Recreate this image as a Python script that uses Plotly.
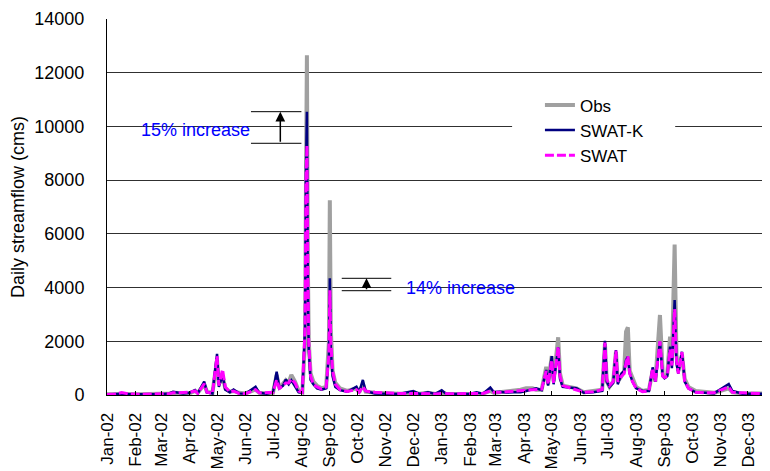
import plotly.graph_objects as go

# ---------------- data ----------------
dates = [
    "2002-01-01", "2002-01-10", "2002-01-17", "2002-01-25", "2002-02-05", "2002-02-18",
    "2002-03-01", "2002-03-10", "2002-03-14", "2002-03-25", "2002-04-01", "2002-04-07",
    "2002-04-10", "2002-04-17", "2002-04-20", "2002-04-26", "2002-05-01", "2002-05-03",
    "2002-05-07", "2002-05-10", "2002-05-15", "2002-05-19", "2002-05-25", "2002-06-01",
    "2002-06-12", "2002-06-16", "2002-06-24", "2002-07-01", "2002-07-05", "2002-07-08",
    "2002-07-12", "2002-07-15", "2002-07-18", "2002-07-21", "2002-07-25", "2002-07-29",
    "2002-08-02", "2002-08-05", "2002-08-06", "2002-08-07", "2002-08-08", "2002-08-09",
    "2002-08-11", "2002-08-14", "2002-08-18", "2002-08-23", "2002-08-28", "2002-08-31",
    "2002-09-01", "2002-09-02", "2002-09-04", "2002-09-07", "2002-09-12", "2002-09-20",
    "2002-09-30", "2002-10-03", "2002-10-07", "2002-10-10", "2002-10-20", "2002-11-01",
    "2002-11-15", "2002-12-01", "2002-12-08", "2002-12-17", "2002-12-25", "2003-01-01",
    "2003-01-06", "2003-01-20", "2003-02-01", "2003-02-08", "2003-02-15", "2003-02-23",
    "2003-02-27", "2003-03-05", "2003-03-12", "2003-03-20", "2003-03-28", "2003-04-03",
    "2003-04-10", "2003-04-14", "2003-04-20", "2003-04-25", "2003-04-27", "2003-05-01",
    "2003-05-03", "2003-05-08", "2003-05-10", "2003-05-13", "2003-05-28", "2003-06-05",
    "2003-06-15", "2003-06-25", "2003-06-28", "2003-06-30", "2003-07-03", "2003-07-07",
    "2003-07-10", "2003-07-12", "2003-07-16", "2003-07-19", "2003-07-21", "2003-07-23",
    "2003-07-25", "2003-07-28", "2003-08-01", "2003-08-08", "2003-08-15", "2003-08-19",
    "2003-08-22", "2003-08-27", "2003-08-30", "2003-09-01", "2003-09-04", "2003-09-07",
    "2003-09-09", "2003-09-12", "2003-09-14", "2003-09-16", "2003-09-20", "2003-09-23",
    "2003-09-27", "2003-10-05", "2003-10-15", "2003-10-25", "2003-11-10", "2003-11-14",
    "2003-11-25", "2003-12-05", "2003-12-15", "2003-12-25",
]

obs = [
    30, 40, 60, 40, 30, 30,
    30, 60, 80, 60, 60, 150,
    80, 400, 120, 80, 1300, 400,
    700, 250, 120, 150, 80, 60,
    200, 80, 60, 80, 750, 250,
    400, 550, 450, 750, 500, 150,
    100, 2000, 8000, 12650, 5000, 2000,
    800, 500, 350, 250, 300, 2000,
    7250, 2500, 900, 450, 250, 150,
    250, 100, 400, 120, 80, 60,
    50, 60, 50, 80, 40, 80,
    40, 40, 50, 60, 50, 150,
    80, 100, 120, 150, 200, 250,
    250, 200, 200, 1050, 400, 1450,
    500, 2150, 800, 350, 250, 100,
    150, 200, 1900, 500, 300, 500,
    1600, 500, 700, 900, 2360, 2520,
    900, 600, 300, 150, 200, 900,
    500, 2980, 800, 650, 800, 2170,
    1200, 5600, 1500, 900, 1500, 600,
    300, 150, 100, 80, 250, 100,
    60, 50, 60, 50,
]

swat_k = [
    20, 30, 50, 30, 25, 25,
    30, 60, 120, 60, 80, 180,
    60, 500, 100, 60, 1530, 300,
    750, 200, 100, 200, 60, 50,
    310, 80, 50, 100, 870, 250,
    350, 580, 400, 550, 300, 100,
    90, 2500, 8500, 10550, 4000, 1700,
    560, 400, 250, 200, 250, 1500,
    4350, 1700, 700, 300, 180, 120,
    310, 100, 560, 150, 60, 50,
    40, 150, 40, 100, 40, 180,
    40, 40, 50, 100, 50, 280,
    100, 120, 90, 100, 100, 150,
    200, 250, 180, 930, 350, 1450,
    400, 1775, 600, 300, 250, 80,
    100, 150, 2020, 500, 300, 450,
    1675, 400, 800, 900, 1300, 1430,
    800, 500, 250, 150, 150, 1030,
    500, 1985, 700, 620, 700, 1800,
    1000, 3540, 1200, 800, 1610, 500,
    250, 100, 80, 60, 410, 150,
    50, 50, 50, 50,
]

swat = [
    20, 40, 90, 40, 30, 30,
    30, 50, 80, 90, 100, 150,
    60, 420, 100, 60, 1450, 350,
    950, 300, 120, 150, 60, 50,
    200, 80, 80, 100, 560, 250,
    350, 450, 450, 600, 450, 150,
    100, 2500, 8000, 9300, 4500, 2000,
    700, 400, 300, 220, 300, 1500,
    3900, 2000, 900, 400, 200, 130,
    200, 100, 310, 150, 100, 80,
    60, 60, 50, 60, 40, 60,
    50, 50, 60, 50, 60, 150,
    100, 100, 120, 130, 150, 180,
    200, 200, 220, 900, 400, 1300,
    450, 1800, 700, 350, 200, 100,
    120, 200, 1950, 600, 350, 500,
    1650, 500, 700, 800, 1200, 1450,
    800, 500, 250, 120, 150, 1000,
    500, 2000, 700, 650, 700, 1700,
    1100, 3200, 1300, 800, 1600, 500,
    250, 100, 80, 80, 300, 100,
    80, 60, 50, 60,
]

y_ticks = [0, 2000, 4000, 6000, 8000, 10000, 12000, 14000]

FONT = "Liberation Sans, Arial, Helvetica, sans-serif"

fig = go.Figure()
fig.add_trace(go.Scatter(x=dates, y=obs, name="Obs", mode="lines",
                         line=dict(color="#A0A0A0", width=4)))
fig.add_trace(go.Scatter(x=dates, y=swat_k, name="SWAT-K", mode="lines",
                         line=dict(color="#000080", width=2.5)))
fig.add_trace(go.Scatter(x=dates, y=swat, name="SWAT", mode="lines",
                         line=dict(color="#FF00FF", width=3, dash="9px,3px")))

# white box behind the legend (hides the gridline like the original)
fig.add_shape(type="rect", xref="paper", yref="paper",
              x0=0.611, x1=0.857, y0=0.60, y1=0.815,
              fillcolor="white", line=dict(width=0), layer="above")

# bracket lines for the two annotations
for (xa, xb, yv) in [("2002-06-07", "2002-08-01", 10549), ("2002-06-07", "2002-08-01", 9372),
                     ("2002-09-14", "2002-11-07", 4345), ("2002-09-14", "2002-11-07", 3884)]:
    fig.add_shape(type="line", xref="x", yref="y", x0=xa, x1=xb, y0=yv, y1=yv,
                  line=dict(color="black", width=1))

fig.add_annotation(x="2002-07-09", y=10549, ax="2002-07-09", ay=9372,
                   xref="x", yref="y", axref="x", ayref="y", text="",
                   showarrow=True, arrowhead=2, arrowsize=1.3, arrowwidth=1.5,
                   arrowcolor="black")
fig.add_annotation(x="2002-10-11", y=4345, ax="2002-10-11", ay=3884,
                   xref="x", yref="y", axref="x", ayref="y", text="",
                   showarrow=True, arrowhead=2, arrowsize=1.3, arrowwidth=1.5,
                   arrowcolor="black")
fig.add_annotation(x="2002-04-08", y=9870, xref="x", yref="y", text="15% increase",
                   showarrow=False, font=dict(family=FONT, size=18, color="#0000FF"))
fig.add_annotation(x="2003-01-22", y=3984, xref="x", yref="y", text="14% increase",
                   showarrow=False, font=dict(family=FONT, size=18, color="#0000FF"))

# the page body has an 8px margin, so the figure is sized to fit the window
fig.update_layout(
    width=762, height=463,
    margin=dict(l=99, r=0, t=11, b=76, autoexpand=False),
    paper_bgcolor="white", plot_bgcolor="white",
    font=dict(family=FONT, size=18, color="black"),
    showlegend=True,
    legend=dict(x=0.653, y=0.818, xanchor="left", yanchor="top",
                bgcolor="rgba(0,0,0,0)", borderwidth=0,
                font=dict(family=FONT, size=17, color="black"),
                tracegroupgap=0),
    xaxis=dict(
        type="date", range=["2002-01-01", "2003-12-25"],
        tick0="2002-01-01", dtick="M1", tickformat="%b-%y",
        tickangle=-90, ticks="inside", ticklen=4, tickcolor="black",
        showline=True, linecolor="black", linewidth=1,
        showgrid=False, zeroline=False,
        tickfont=dict(family=FONT, size=17, color="black"),
        ticklabelstandoff=10,
    ),
    yaxis=dict(
        range=[0, 14000], tickvals=y_ticks,
        ticktext=[str(v) for v in y_ticks],
        showline=True, linecolor="black", linewidth=1,
        showgrid=True, gridcolor="#303030", gridwidth=1,
        zeroline=False, ticks="",
        tickfont=dict(family=FONT, size=18, color="black"),
        ticklabelstandoff=18,
        title=dict(text="Daily streamflow (cms)", standoff=8,
                   font=dict(family=FONT, size=18, color="black")),
    ),
)

fig.write_html("out.html")
